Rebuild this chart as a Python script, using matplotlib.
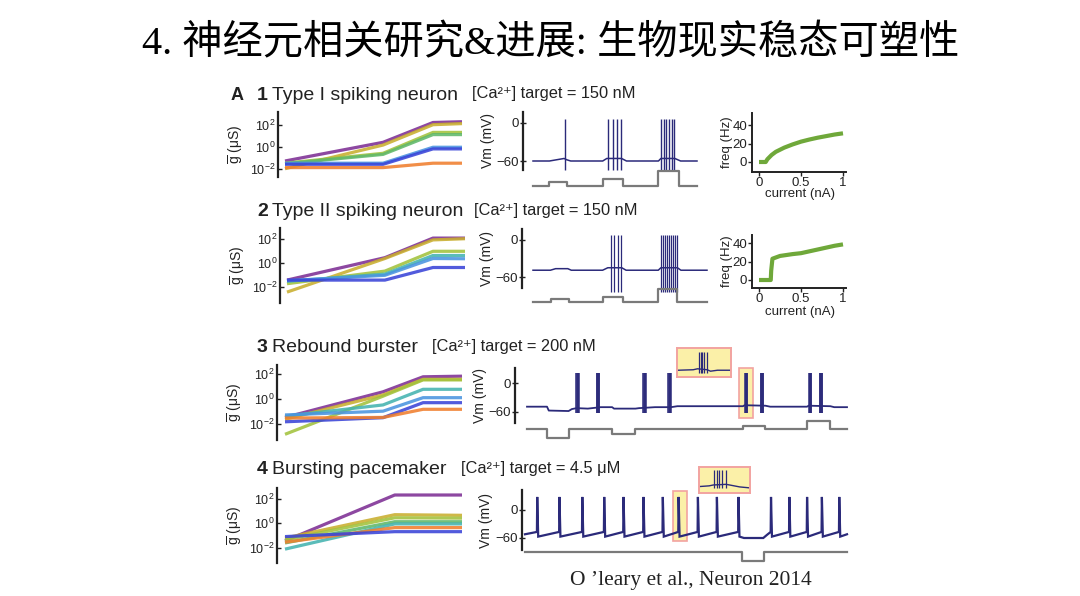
import numpy as np
import matplotlib
matplotlib.use('Agg')
import matplotlib.pyplot as plt
from matplotlib.patches import Rectangle

plt.rcParams['font.family'] = ['Liberation Sans', 'DejaVu Sans']
plt.rcParams['mathtext.fontset'] = 'custom'
plt.rcParams['mathtext.rm'] = 'Liberation Sans'
plt.rcParams['mathtext.it'] = 'Liberation Sans:italic'
plt.rcParams['mathtext.bf'] = 'Liberation Sans:bold'

# ---------------- data ----------------
title_text = "4. 神经元相关研究&进展: 生物现实稳态可塑性"
citation = "O ’leary et al., Neuron 2014"
panel_nums = ["1", "2", "3", "4"]
panel_names = ["Type I spiking neuron", "Type II spiking neuron", "Rebound burster", "Bursting pacemaker"]
panel_targets = ["150 nM", "150 nM", "200 nM", "4.5 μM"]

cond_colors = {'purple': '#7D2E94', 'gold': '#C9AE2E', 'lime': '#A2C23C', 'green': '#5FB86A',
               'teal': '#44B3B0', 'lightblue': '#4A94E0', 'blue': '#3A44D8', 'orange': '#F07F2E'}

# conductance trajectories (log10 of g in uS) at time knots (fraction of simulation)
g1_t = [0.0, 0.554, 0.836, 1.0]
g1 = {'purple': [-1.3, 0.4, 2.2, 2.27], 'gold': [-2.0, 0.15, 2.0, 2.1],
      'lime': [-1.5, -0.6, 1.3, 1.3], 'green': [-1.55, -0.7, 1.1, 1.1],
      'lightblue': [-1.5, -1.5, -0.05, -0.05], 'blue': [-1.6, -1.6, -0.2, -0.2],
      'orange': [-1.9, -1.9, -1.5, -1.5]}
g2_t = [0.0, 0.55, 0.82, 1.0]
g2 = {'purple': [-1.4, 0.47, 2.1, 2.1], 'gold': [-2.4, 0.4, 1.95, 2.05],
      'lime': [-1.7, -0.65, 1.0, 1.0], 'teal': [-1.5, -0.9, 0.65, 0.65],
      'lightblue': [-1.45, -1.0, 0.4, 0.38], 'blue': [-1.4, -1.4, -0.35, -0.35]}
g3_t = [0.0, 0.554, 0.78, 1.0]
g3 = {'purple': [-1.45, 0.6, 1.8, 1.85], 'gold': [-1.6, 0.35, 1.6, 1.6],
      'lime': [-2.8, 0.25, 1.55, 1.55], 'teal': [-1.35, -0.45, 0.8, 0.8],
      'lightblue': [-1.25, -0.95, 0.13, 0.13], 'blue': [-1.8, -1.47, -0.27, -0.27],
      'orange': [-1.5, -1.45, -0.8, -0.8]}
g4_t = [0.0, 0.62, 1.0]
g4 = {'purple': [-1.43, 2.3, 2.3], 'gold': [-1.2, 0.7, 0.65], 'lime': [-1.35, 0.45, 0.42],
      'green': [-1.6, 0.13, 0.13], 'teal': [-2.1, -0.05, -0.05],
      'orange': [-1.54, -0.35, -0.35], 'blue': [-1.08, -0.68, -0.68]}

# membrane potential: baseline knots (t, mV) and spike times
v1_knot_t = [0, 0.10, 0.19, 0.205, 0.23, 0.425, 0.45, 0.54, 0.57, 0.765, 0.78, 0.865, 0.9, 1.0]
v1_knot_v = [-60, -60, -56, -58, -60, -60, -56, -56, -60, -60, -56, -56, -60, -60]
v1_spikes = [0.198, 0.459, 0.486, 0.510, 0.535, 0.78, 0.796, 0.812, 0.829, 0.845, 0.861]
v1_peak, v1_trough = 6, -74

v2_knot_t = [0, 0.10, 0.13, 0.20, 0.22, 0.40, 0.43, 0.51, 0.535, 0.72, 0.735, 0.83, 0.85, 1.0]
v2_knot_v = [-49, -49, -46.5, -46.5, -49, -49, -45, -45, -49, -49, -45, -45, -49, -49]
v2_spikes = [0.446, 0.465, 0.487, 0.506, 0.735, 0.747, 0.758, 0.770, 0.781, 0.793, 0.804, 0.816, 0.827]
v2_peak, v2_trough = 8, -84

v3_knot_t = [0, 0.0625, 0.068, 0.13, 0.14, 0.155, 0.19, 0.23, 0.266, 0.272, 0.339, 0.35, 0.40,
             0.45, 0.47, 0.675, 0.68, 0.745, 0.76, 0.875, 0.88, 0.948, 0.96, 1.0]
v3_knot_v = [-49, -49, -57, -58, -54, -52, -53, -50, -50, -53, -53, -52, -50,
             -50, -48, -48, -46, -47, -49, -49, -47, -48, -50, -50]
v3_bursts = [0.158, 0.222, 0.368, 0.446, 0.685, 0.734, 0.885, 0.919]
v3_burst_offsets = [-0.004, -0.002, 0.0, 0.002, 0.004]
v3_peak, v3_trough = 20, -62

v4_spikes = [0.038, 0.107, 0.178, 0.246, 0.306, 0.368, 0.428, 0.477, 0.537, 0.596, 0.663,
             0.764, 0.821, 0.876, 0.922, 0.976]
v4_pre, v4_peak, v4_post = -47, 28, -57
v4_knot_t = [0.0, 0.68, 0.74, 0.752, 1.0]
v4_knot_v = [-52, -60, -60, -53, -52]

# injected current steps (start, end, nA)
i1_steps = [(0.10, 0.21, 0.1), (0.425, 0.547, 0.2), (0.765, 0.888, 0.4)]
i2_steps = [(0.106, 0.206, 0.1), (0.404, 0.515, 0.15), (0.721, 0.827, 0.35)]
i3_steps = [(0.0625, 0.130, -0.22), (0.266, 0.339, -0.125), (0.675, 0.745, 0.1), (0.875, 0.948, 0.23)]
i4_steps = [(0.674, 0.743, -0.25)]

# F-I curves
fi1_current = [0, 0.08, 0.1, 0.15, 0.2, 0.3, 0.4, 0.5, 0.6, 0.7, 0.8, 0.9, 1.0]
fi1_freq = [0, 0, 3, 7.6, 11, 15.5, 19, 22, 24.3, 26.3, 28, 29.7, 31]
fi2_current = [0, 0.14, 0.145, 0.16, 0.25, 0.4, 0.5, 0.6, 0.75, 0.9, 1.0]
fi2_freq = [0, 0, 10, 23, 26, 28, 29, 31, 34, 37, 38.5]

# insets (t within inset, mV)
in3_knot_t = [0.02, 0.30, 0.38, 0.56, 0.62, 0.75, 0.98]
in3_knot_v = [-52, -50, -46, -50, -56, -52, -52]
in3_spikes = [0.40, 0.436, 0.472, 0.509, 0.552]
in4_knot_t = [0.02, 0.20, 0.28, 0.53, 0.60, 0.80, 0.98]
in4_knot_v = [-50, -47, -43, -40, -43, -52, -56]
in4_spikes = [0.294, 0.346, 0.399, 0.458, 0.523]

# ---------------- figure ----------------
W, H = 1080, 596
fig = plt.figure(figsize=(W / 100, H / 100), dpi=100)
fig.patch.set_facecolor('white')

NAVY = '#2B2A7A'
GRAY = '#7A7A7A'
TXT = '#222222'
HL_FACE = '#FBF0A8'
HL_EDGE = '#F2A3A0'


def add_ax(x0, y0, x1, y1):
    return fig.add_axes([x0 / W, 1 - y1 / H, (x1 - x0) / W, (y1 - y0) / H])


def lim(pa, va, pb, vb, plo, phi):
    f = lambda p: va + (p - pa) * (vb - va) / (pb - pa)
    return f(plo), f(phi)


def clean(ax, keep=()):
    for s in ['left', 'right', 'top', 'bottom']:
        ax.spines[s].set_visible(s in keep)
    ax.patch.set_alpha(0)


fig.text(551 / W, 1 - 44 / H, title_text, ha='center', va='center', fontsize=29,
         family=['Liberation Serif', 'Noto Sans CJK SC'], color='black')
fig.text(570 / W, 1 - 580 / H, citation, ha='left', va='center', fontsize=15.5,
         family=['Liberation Serif', 'DejaVu Serif'], color='#222')

fig.text(231 / W, 1 - 95 / H, 'A', ha='left', va='center', fontsize=13, fontweight='bold', color=TXT)

rows = [
    dict(ty=95, tx_target=472, g_ax=(278, 112, 470, 177), g_x=(285, 462), g_log=(146.7, 11.0),
         g_t=g1_t, g=g1, glab_x=236,
         v_ax=(523, 112, 700, 170), v_x=(533, 697), v_cal=(123, 0, 161, -60), vlab_x=488,
         i_ax=(523, 165, 700, 195), i_base=186, i_steps=i1_steps),
    dict(ty=211, tx_target=474, g_ax=(280, 228, 472, 303), g_x=(287, 465), g_log=(263.3, 12.0),
         g_t=g2_t, g=g2, glab_x=238,
         v_ax=(522, 229, 710, 288), v_x=(533, 707), v_cal=(240, 0, 277, -60), vlab_x=487,
         i_ax=(522, 283, 710, 312), i_base=302.3, i_steps=i2_steps),
    dict(ty=347, tx_target=432, g_ax=(277, 365, 470, 440), g_x=(285, 462), g_log=(399.3, 12.5),
         g_t=g3_t, g=g3, glab_x=235,
         v_ax=(515, 368, 850, 423), v_x=(527, 847), v_cal=(383, 0, 412, -60), vlab_x=480,
         i_ax=(515, 415, 850, 445), i_base=429.3, i_steps=i3_steps),
    dict(ty=470, tx_target=461, g_ax=(277, 488, 470, 563), g_x=(285, 462), g_log=(523.3, 12.3),
         g_t=g4_t, g=g4, glab_x=235,
         v_ax=(522, 490, 850, 550), v_x=(525, 847), v_cal=(510, 0, 538, -60), vlab_x=486,
         i_ax=(522, 540, 850, 570), i_base=551.7, i_steps=i4_steps),
]

for k, r in enumerate(rows):
    # titles
    fig.text(257 / W, 1 - r['ty'] / H, panel_nums[k], ha='left', va='center', fontsize=14,
             fontweight='bold', color=TXT)
    fig.text(272 / W, 1 - r['ty'] / H, panel_names[k], ha='left', va='center', fontsize=14, color=TXT)
    fig.text(r['tx_target'] / W, 1 - (r['ty'] - 1) / H, '[Ca²⁺] target = ' + panel_targets[k],
             ha='left', va='center', fontsize=11.8, color=TXT)

    # conductance panel
    x0, y0, x1, y1 = r['g_ax']
    ax = add_ax(x0, y0, x1, y1)
    clean(ax, keep=('left',))
    ax.set_yscale('log')
    ax.set_xlim(*lim(r['g_x'][0], 0, r['g_x'][1], 1, x0, x1))
    c0, s = r['g_log']
    lo = (c0 - y1) / s
    hi = (c0 - y0) / s
    ax.set_ylim(10 ** lo, 10 ** hi)
    for name, vals in r['g'].items():
        ax.plot(r['g_t'], [10 ** v for v in vals], color=cond_colors[name], lw=2.3,
                alpha=0.88, solid_capstyle='butt')
    ax.set_yticks([1e-2, 1e0, 1e2])
    ax.set_yticklabels(['$10^{-2}$', '$10^{0}$', '$10^{2}$'])
    ax.yaxis.set_minor_locator(matplotlib.ticker.NullLocator())
    ax.set_xticks([])
    ax.spines['left'].set_linewidth(1.6)
    ax.spines['left'].set_color(TXT)
    ax.tick_params(axis='y', labelsize=9, length=3, width=1, direction='in', pad=2, colors=TXT)
    fig.text(r['glab_x'] / W, 1 - (y0 + y1) / 2 / H, r'$\overline{\rm g}$ (μS)', rotation=90,
             ha='center', va='center', fontsize=10, color=TXT)

    # Vm panel
    x0, y0, x1, y1 = r['v_ax']
    axv = add_ax(x0, y0, x1, y1)
    clean(axv, keep=('left',))
    axv.set_xlim(*lim(r['v_x'][0], 0, r['v_x'][1], 1, x0, x1))
    pa, va, pb, vb = r['v_cal']
    axv.set_ylim(*lim(pa, va, pb, vb, y1, y0))
    axv.set_xticks([])
    axv.set_yticks([0, -60])
    axv.set_yticklabels(['0', '−60'])
    axv.spines['left'].set_linewidth(1.6)
    axv.spines['left'].set_color(TXT)
    axv.tick_params(axis='y', labelsize=9.5, length=4, width=1, direction='inout', pad=1, colors=TXT)
    fig.text(r['vlab_x'] / W, 1 - (y0 + y1) / 2 / H, 'Vm (mV)', rotation=90,
             ha='center', va='center', fontsize=10, color=TXT)

    if k == 0:
        axv.plot(v1_knot_t, v1_knot_v, color=NAVY, lw=1.1)
        axv.vlines(v1_spikes, v1_trough, v1_peak, color=NAVY, lw=1.0, clip_on=False)
    elif k == 1:
        axv.plot(v2_knot_t, v2_knot_v, color=NAVY, lw=1.1)
        axv.vlines(v2_spikes, v2_trough, v2_peak, color=NAVY, lw=0.9, clip_on=False)
    elif k == 2:
        axv.add_patch(Rectangle((0.6625, -72), 0.706 - 0.6625, 103, facecolor=HL_FACE,
                                edgecolor=HL_EDGE, lw=1.2, zorder=0.5, clip_on=False))
        axv.plot(v3_knot_t, v3_knot_v, color=NAVY, lw=1.3)
        for b in v3_bursts:
            axv.vlines([b + o for o in v3_burst_offsets], v3_trough, v3_peak, color=NAVY,
                       lw=1.1, clip_on=False)
    else:
        axv.add_patch(Rectangle((0.46, -66.4), 0.5036 - 0.46, 107.1, facecolor=HL_FACE,
                                edgecolor=HL_EDGE, lw=1.2, zorder=0.5, clip_on=False))
        pts = list(zip(v4_knot_t, v4_knot_v))
        for t in v4_spikes:
            pts += [(t - 0.001, v4_pre), (t, v4_peak), (t + 0.003, v4_post)]
        pts.sort()
        axv.plot([p[0] for p in pts], [p[1] for p in pts], color=NAVY, lw=1.6,
                 clip_on=False, solid_joinstyle='miter')

    # current trace
    x0, y0, x1, y1 = r['i_ax']
    axi = add_ax(x0, y0, x1, y1)
    clean(axi)
    axi.set_xticks([]); axi.set_yticks([])
    axi.set_xlim(*lim(r['v_x'][0], 0, r['v_x'][1], 1, x0, x1))
    axi.set_ylim(*lim(r['i_base'], 0, r['i_base'] - 37.5, 1, y1, y0))
    tt, ii = [0.0], [0.0]
    for (a, b, amp) in r['i_steps']:
        tt += [a, a, b, b]
        ii += [0, amp, amp, 0]
    tt.append(1.0); ii.append(0.0)
    axi.plot(tt, ii, color=GRAY, lw=1.6)

# F-I panels
fi_specs = [((752, 113, 846, 172), 162, 125, fi1_current, fi1_freq, 194),
            ((752, 235, 846, 288), 280, 243, fi2_current, fi2_freq, 312)]
for (x0, y0, x1, y1), p0, p40, cur, fr, lab_y in fi_specs:
    ax = add_ax(x0, y0, x1, y1)
    clean(ax, keep=('left', 'bottom'))
    ax.set_xlim(*lim(759, 0, 843, 1, x0, x1))
    ax.set_ylim(*lim(p0, 0, p40, 40, y1, y0))
    ax.plot(cur, fr, color='#6FA83A', lw=3.0, solid_capstyle='butt')
    ax.set_xticks([0, 0.5, 1]); ax.set_xticklabels(['0', '0.5', '1'])
    ax.set_yticks([0, 20, 40])
    for s in ('left', 'bottom'):
        ax.spines[s].set_linewidth(1.4)
        ax.spines[s].set_color(TXT)
    ax.tick_params(labelsize=9.5, length=3, width=1, pad=0.5, colors=TXT)
    fig.text(800 / W, 1 - lab_y / H, 'current (nA)', ha='center', va='center', fontsize=9.5, color=TXT)
    fig.text(727 / W, 1 - (y0 + y1) / 2 / H, 'freq (Hz)', rotation=90, ha='center', va='center',
             fontsize=9.5, color=TXT)

# insets
for (x0, y0, x1, y1), kt, kv, sp in [((677, 348, 731, 377), in3_knot_t, in3_knot_v, in3_spikes),
                                     ((699, 467, 750, 493), in4_knot_t, in4_knot_v, in4_spikes)]:
    ax = add_ax(x0, y0, x1, y1)
    ax.set_facecolor(HL_FACE)
    for s in ax.spines.values():
        s.set_color(HL_EDGE); s.set_linewidth(1.4)
    ax.set_xticks([]); ax.set_yticks([])
    ax.set_xlim(0, 1); ax.set_ylim(-80, 40)
    ax.plot(kt, kv, color=NAVY, lw=1.0)
    if sp is in3_spikes:
        ax.vlines(sp, -62, 25, color=NAVY, lw=0.9)
    else:
        ax.vlines(sp, -57, 25, color=NAVY, lw=0.9)

fig.savefig('out.png', dpi=100, facecolor='white')
